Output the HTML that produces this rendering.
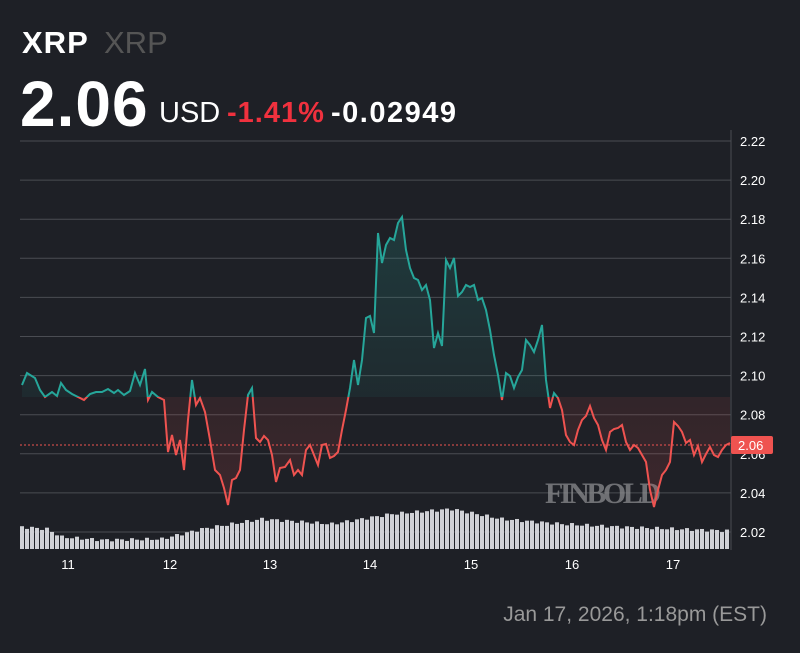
<!DOCTYPE html>
<html><head><style>
body{margin:0;background:#1e2026;width:800px;height:653px;overflow:hidden;font-family:"Liberation Sans",sans-serif;}
.t{position:absolute;color:#fff;font-weight:bold;white-space:nowrap}
</style></head><body>
<div class="t" style="left:22px;top:25px;font-size:31px;letter-spacing:1px">XRP</div>
<div class="t" style="left:104px;top:25px;font-size:31px;font-weight:normal;color:#555">XRP</div>
<div class="t" style="left:20px;top:67px;font-size:64px;letter-spacing:1px">2.06</div>
<div class="t" style="left:159px;top:97px;font-size:29px;font-weight:normal">USD</div>
<div class="t" style="left:227px;top:97px;font-size:29px;color:#f0313e;letter-spacing:1px">-1.41%</div>
<div class="t" style="left:331px;top:97px;font-size:29px;letter-spacing:1.5px">-0.02949</div>
<svg id="s" width="800" height="653" style="position:absolute;left:0;top:0">
<defs>
<clipPath id="up"><rect x="0" y="0" width="731" height="397"/></clipPath>
<clipPath id="dn"><rect x="0" y="397" width="731" height="300"/></clipPath>
<linearGradient id="gg" x1="0" y1="0" x2="0" y2="1"><stop offset="0" stop-color="#26a69a" stop-opacity=".2"/><stop offset="1" stop-color="#26a69a" stop-opacity="0"/></linearGradient>
<linearGradient id="rg" x1="0" y1="1" x2="0" y2="0"><stop offset="0" stop-color="#ef5350" stop-opacity=".15"/><stop offset="1" stop-color="#ef5350" stop-opacity="0"/></linearGradient>
</defs>
<g id="grid" stroke="#4a4c52" stroke-width="1"></g>
<line x1="731" y1="130" x2="731" y2="550" stroke="#4a4c52"/>
<g id="vol" fill="#d0d1d6"></g>
<text x="545" y="503" font-family="Liberation Serif" font-size="30" fill="#8a8b8e" opacity=".75" font-weight="bold" textLength="116">FINBOLD</text>
<g id="lines"></g>
<line x1="20" y1="445" x2="731" y2="445" stroke="#ef5350" stroke-dasharray="2,2" stroke-width="1"/>
<rect x="731" y="436" width="42" height="18" rx="2" fill="#ef5350"/>
<text x="738" y="450" font-size="13" fill="#fff">2.06</text>
<g font-size="13" fill="#fff" text-anchor="middle">
<text x="68" y="569">11</text><text x="170" y="569">12</text><text x="270" y="569">13</text><text x="370" y="569">14</text><text x="471" y="569">15</text><text x="572" y="569">16</text><text x="673" y="569">17</text>
</g>
<text x="767" y="621" font-size="21" fill="#999" text-anchor="end">Jan 17, 2026, 1:18pm (EST)</text>
</svg>
<script>
var ns="http://www.w3.org/2000/svg",g=document.getElementById('grid');
for(var i=0;i<11;i++){var v=2.22-i*0.02,y=141+i*39.1;
 var l=document.createElementNS(ns,'line');l.setAttribute('x1',20);l.setAttribute('x2',731);l.setAttribute('y1',y);l.setAttribute('y2',y);g.appendChild(l);
 if(v>2.01){var t=document.createElementNS(ns,'text');t.setAttribute('x',740);t.setAttribute('y',y+5);t.setAttribute('font-size',13);t.setAttribute('fill','#fff');t.setAttribute('stroke','none');t.textContent=v.toFixed(2);g.appendChild(t);}}
var k=[[20,22],[45,20],[60,12],[100,9],[160,10],[200,20],[260,30],[330,25],[390,35],[450,40],[500,30],[560,25],[620,22],[730,18]];
function h(x){for(var i=1;i<k.length;i++)if(x<=k[i][0]){var a=k[i-1],b=k[i];return a[1]+(b[1]-a[1])*(x-a[0])/(b[0]-a[0]);}return 18;}
var vb='';for(var x=20;x<729;x+=5){var hh=h(x)+(Math.sin(x*1.7)*1.5);vb+='<rect x="'+x+'" y="'+(549-hh)+'" width="4" height="'+hh+'"/>';}
document.getElementById('vol').innerHTML=vb;
var p="22,385 27,373 35,378 40,390 45,397 52,392 57,396 61,383 66,390 72,394 78,397 84,400 90,394 96,392 102,392 108,389 114,393 118,390 124,395 130,391 135,373 140,385 145,369 148,400 152,392 158,397 164,400 168,452 172,435 176,455 180,440 184,470 188,420 192,380 196,405 200,398 205,412 210,440 215,470 220,475 224,488 228,505 232,480 236,478 240,470 244,430 248,395 252,388 256,438 260,442 264,436 268,440 272,455 276,482 280,468 285,467 290,460 294,475 298,470 302,475 306,450 310,445 314,455 318,465 322,445 326,444 330,458 334,456 338,452 342,430 346,410 350,388 354,360 358,385 362,360 366,318 370,316 374,333 378,233 382,263 386,245 390,238 394,240 398,223 402,217 406,250 410,268 414,278 418,280 422,290 426,285 430,300 434,348 438,333 442,346 446,260 450,268 454,258 458,296 462,292 466,285 470,287 474,285 478,300 482,298 486,310 490,330 494,355 498,375 502,400 506,373 510,376 514,388 518,377 522,370 526,340 530,345 534,352 538,340 542,325 546,380 550,408 554,393 558,398 562,410 566,435 570,442 574,445 578,430 582,420 586,416 590,406 594,418 598,425 602,440 606,450 610,432 614,429 618,428 622,425 626,442 630,450 634,445 638,448 642,455 646,462 650,490 654,507 658,490 662,475 666,470 670,462 674,422 678,426 682,432 686,443 690,440 694,455 698,446 702,462 706,454 710,447 714,455 718,457 722,450 726,445 730,443";
var area="22,397 "+p+" 730,397";
document.getElementById('lines').innerHTML=
'<polygon points="'+area+'" fill="url(#gg)" clip-path="url(#up)"/>'+
'<polygon points="'+area+'" fill="url(#rg)" clip-path="url(#dn)"/>'+
'<polyline points="'+p+'" fill="none" stroke="#26a69a" stroke-width="2" clip-path="url(#up)"/>'+
'<polyline points="'+p+'" fill="none" stroke="#ef5350" stroke-width="2" clip-path="url(#dn)"/>';
</script>
</body></html>
